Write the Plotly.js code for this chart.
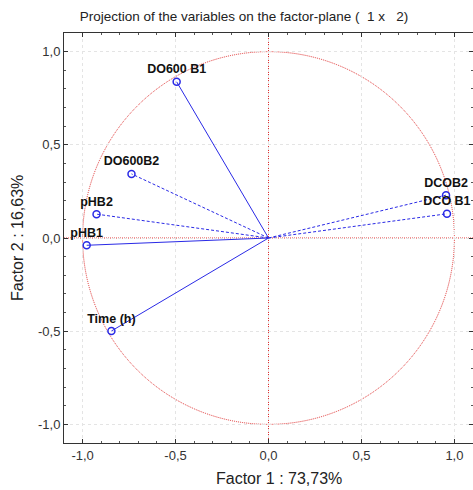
<!DOCTYPE html>
<html>
<head>
<meta charset="utf-8">
<script src="https://cdn.plot.ly/plotly-3.0.1.min.js"></script>
<style>html,body{margin:0;padding:0;background:#fff;}#chart{width:473px;height:490px;}</style>
</head>
<body>
<div id="chart"></div>
<script>
// Variable names and their loadings on Factor 1 and Factor 2
var variables = ["DO600 B1", "DO600B2", "pHB2", "pHB1", "Time (h)", "DCOB2", "DCO B1"];
var factor1 = [-0.494, -0.737, -0.925, -0.978, -0.845, 0.955, 0.960];
var factor2 = [0.838, 0.344, 0.128, -0.039, -0.499, 0.230, 0.130];
var lineStyles = ["solid", "dashed", "dashed", "solid", "solid", "dashed", "dashed"];
var tickValues = [-1, -0.5, 0, 0.5, 1];
var tickLabels = ["-1,0", "-0,5", "0,0", "0,5", "1,0"];
var titleText = "Projection of the variables on the factor-plane (\u00a0\u00a01 x \u00a0\u00a02)";
var xTitle = "Factor 1 : 73,73%";
var yTitle = "Factor 2 : 16,63%";

var blue = "#2a2ae6";
var traces = [];
for (var i = 0; i < variables.length; i++) {
  traces.push({
    x: [0, factor1[i]], y: [0, factor2[i]],
    mode: "lines", type: "scatter", hoverinfo: "skip", showlegend: false,
    line: {color: blue, width: 1, dash: lineStyles[i] === "solid" ? "solid" : "3px,2px"}
  });
}
traces.push({
  x: factor1, y: factor2, text: variables,
  mode: "markers+text", type: "scatter", showlegend: false, cliponaxis: false,
  textposition: "top center",
  textfont: {family: "Liberation Sans, Arial, sans-serif", size: 12.5, color: "#111", weight: "bold"},
  marker: {symbol: "circle-open", size: 7, color: blue, line: {width: 1.5, color: blue}}
});

var axisCommon = {
  range: [-1.1, 1.1], tickmode: "array", tickvals: tickValues, ticktext: tickLabels,
  showline: true, linecolor: "#333", linewidth: 1, mirror: "allticks",
  ticks: "inside", ticklen: 4, tickcolor: "#333",
  minor: {tickmode: "linear", tick0: 0, dtick: 0.1, ticks: "inside", ticklen: 2, tickcolor: "#555", showgrid: false},
  showgrid: true, gridcolor: "#e4e4e4", griddash: "dot", gridwidth: 1,
  zeroline: false, fixedrange: true,
  tickfont: {family: "Liberation Sans, Arial, sans-serif", size: 13, color: "#333"}
};

var red = "#e03030";
var layout = {
  width: 473, height: 490,
  margin: {l: 64, r: 0, t: 33, b: 47, pad: 0},
  paper_bgcolor: "#fff", plot_bgcolor: "#fff",
  title: {text: titleText, x: 244/473, xanchor: "center", xref: "container", y: 1 - 16/490, yanchor: "middle", yref: "container",
          font: {family: "Liberation Sans, Arial, sans-serif", size: 13.5, color: "#222"}},
  xaxis: Object.assign({}, axisCommon),
  yaxis: Object.assign({}, axisCommon),
  shapes: [
    {type: "circle", xref: "x", yref: "y", x0: -1, x1: 1, y0: -1, y1: 1, line: {color: red, width: 1, dash: "1px,1px"}, layer: "below"},
    {type: "line", xref: "x", yref: "paper", x0: 0, x1: 0, y0: 0, y1: 1, line: {color: red, width: 1, dash: "1px,1px"}, layer: "below"},
    {type: "line", xref: "paper", yref: "y", x0: 0, x1: 1, y0: 0, y1: 0, line: {color: red, width: 1, dash: "1px,1px"}, layer: "below"}
  ],
  annotations: [
    {text: xTitle, xref: "paper", yref: "paper", x: (279 - 64) / 409, y: -(478 - 443) / 410, xanchor: "center", yanchor: "middle",
     showarrow: false, font: {family: "Liberation Sans, Arial, sans-serif", size: 16, color: "#222"}},
    {text: yTitle, xref: "paper", yref: "paper", x: (17 - 64) / 409, y: 0.5, xanchor: "center", yanchor: "middle", textangle: -90,
     showarrow: false, font: {family: "Liberation Sans, Arial, sans-serif", size: 16, color: "#222"}}
  ]
};

Plotly.newPlot("chart", traces, layout, {displayModeBar: false, staticPlot: true});
</script>
</body>
</html>
